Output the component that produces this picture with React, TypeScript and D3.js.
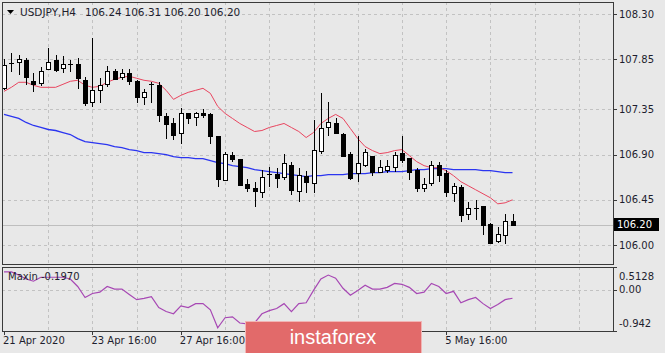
import { useEffect } from 'react'
import * as d3 from 'd3'

const W = 665
const H = 353
const MAIN = { left: 2, right: 613, top: 2, bottom: 264 }
const SUB = { top: 267, bottom: 331 }

const BG = '#E8E8E8'
const FRAME = '#3A3A3A'
const GRID = '#C2C2C2'
const TEXT = '#1E1E2E'
const MA_FAST = '#E8455F'
const MA_SLOW = '#2B35F0'
const OSC = '#A748B4'
const FONT = "'DejaVu Sans', Verdana, sans-serif"

const SYMBOL = 'USDJPY,H4'
const LAST_OHLC = ['106.24', '106.31', '106.20', '106.20']
const OSC_LABEL = 'Maxin -0.1970'

const OPEN = [
  107.56, 107.81, 107.82, 107.84, 107.63, 107.61, 107.75, 107.84, 107.76, 107.80,
  107.80, 107.64, 107.42, 107.54, 107.60, 107.73, 107.67, 107.71, 107.63, 107.47,
  107.60, 107.59, 107.28, 107.21, 107.11, 107.31, 107.27, 107.31, 107.30, 107.09,
  106.65, 106.90, 106.86, 106.61, 106.57, 106.53, 106.71, 106.71, 106.68, 106.80,
  106.54, 106.69, 106.62, 106.93, 107.17, 107.21, 107.11, 106.91, 106.72, 106.80,
  106.89, 106.73, 106.75, 106.78, 106.92, 106.87, 106.75, 106.57, 106.62, 106.80,
  106.72, 106.52, 106.58, 106.31, 106.37, 106.39, 106.21, 106.04, 106.10, 106.24,
]
const HIGH = [
  107.85, 107.91, 107.89, 107.86, 107.71, 107.77, 107.96, 107.89, 107.88, 107.84,
  107.86, 107.67, 108.06, 107.66, 107.78, 107.75, 107.75, 107.75, 107.64, 107.55,
  107.62, 107.62, 107.31, 107.26, 107.36, 107.31, 107.32, 107.35, 107.31, 107.09,
  106.93, 106.93, 106.86, 106.66, 106.63, 106.75, 106.78, 106.77, 106.91, 106.83,
  106.77, 106.74, 107.24, 107.51, 107.42, 107.26, 107.12, 106.93, 107.09, 106.96,
  106.89, 106.85, 106.85, 106.93, 107.09, 106.87, 106.77, 106.67, 106.84, 106.83,
  106.75, 106.62, 106.60, 106.43, 106.45, 106.39, 106.22, 106.18, 106.31, 106.31,
]
const LOW = [
  107.54, 107.72, 107.69, 107.59, 107.52, 107.58, 107.74, 107.72, 107.71, 107.72,
  107.55, 107.38, 107.37, 107.41, 107.57, 107.64, 107.64, 107.59, 107.41, 107.39,
  107.41, 107.22, 107.06, 107.05, 107.01, 107.20, 107.18, 107.26, 107.01, 106.58,
  106.65, 106.83, 106.59, 106.53, 106.38, 106.47, 106.58, 106.57, 106.65, 106.50,
  106.43, 106.52, 106.52, 106.91, 107.09, 107.11, 106.88, 106.65, 106.63, 106.78,
  106.69, 106.72, 106.72, 106.73, 106.82, 106.65, 106.53, 106.53, 106.59, 106.63,
  106.48, 106.43, 106.23, 106.25, 106.25, 106.10, 106.02, 106.02, 106.01, 106.20,
]
const CLOSE = [
  107.79, 107.80, 107.85, 107.67, 107.60, 107.73, 107.82, 107.74, 107.80, 107.79,
  107.66, 107.41, 107.54, 107.59, 107.73, 107.65, 107.71, 107.63, 107.47, 107.52,
  107.59, 107.29, 107.20, 107.09, 107.31, 107.26, 107.31, 107.29, 107.08, 106.66,
  106.91, 106.86, 106.60, 106.57, 106.54, 106.68, 106.70, 106.67, 106.82, 106.55,
  106.70, 106.63, 106.95, 107.16, 107.22, 107.11, 106.89, 106.67, 106.82, 106.93,
  106.73, 106.78, 106.79, 106.90, 106.85, 106.73, 106.57, 106.61, 106.80, 106.70,
  106.53, 106.59, 106.30, 106.37, 106.36, 106.20, 106.02, 106.11, 106.24, 106.20,
]

// moving averages
const MA_RED = [
  107.53, 107.57, 107.62, 107.62, 107.59, 107.57, 107.57, 107.57, 107.60, 107.63,
  107.64, 107.59, 107.57, 107.58, 107.62, 107.65, 107.67, 107.68, 107.66, 107.64,
  107.63, 107.61, 107.54, 107.45, 107.49, 107.52, 107.54, 107.56, 107.51, 107.38,
  107.31, 107.26, 107.21, 107.17, 107.13, 107.14, 107.17, 107.19, 107.21, 107.17,
  107.13, 107.07, 107.12, 107.21, 107.26, 107.30, 107.26, 107.16, 107.06, 106.98,
  106.94, 106.91, 106.92, 106.94, 106.95, 106.89, 106.83, 106.79, 106.77, 106.77,
  106.74, 106.69, 106.63, 106.59, 106.55, 106.51, 106.47, 106.41, 106.42, 106.45,
]
const MA_BLUE = [
  107.30, 107.28, 107.26, 107.22, 107.19, 107.17, 107.15, 107.14, 107.12, 107.10,
  107.06, 107.03, 107.02, 107.01, 107.00, 106.98, 106.97, 106.95, 106.94, 106.92,
  106.92, 106.91, 106.90, 106.88, 106.87, 106.87, 106.86, 106.86, 106.84, 106.82,
  106.81, 106.79, 106.78, 106.77, 106.75, 106.74, 106.73, 106.72, 106.71, 106.70,
  106.69, 106.68, 106.69, 106.69, 106.70, 106.70, 106.70, 106.71, 106.71, 106.71,
  106.72, 106.72, 106.73, 106.73, 106.73, 106.74, 106.75, 106.75, 106.76, 106.76,
  106.76, 106.75, 106.75, 106.75, 106.75, 106.74, 106.74, 106.73, 106.72, 106.72,
]
const OSC_VALUES = [
  0.40, 0.40, 0.33, 0.24, 0.19, 0.28, 0.28, 0.28, 0.28, 0.24,
  0.07, -0.18, -0.09, -0.06, 0.07, 0.01, 0.01, -0.11, -0.23, -0.20,
  -0.16, -0.41, -0.50, -0.55, -0.37, -0.41, -0.32, -0.32, -0.46, -0.87,
  -0.64, -0.62, -0.76, -0.78, -0.76, -0.55, -0.48, -0.43, -0.32, -0.50,
  -0.32, -0.30, -0.02, 0.24, 0.33, 0.26, 0.03, -0.13, -0.02, 0.10,
  0.01, 0.01, 0.05, 0.14, 0.12, 0.05, -0.09, -0.06, 0.14, 0.07,
  -0.09, -0.04, -0.30, -0.23, -0.18, -0.32, -0.43, -0.34, -0.23, -0.197,
]

const PRICE_TICKS = [108.3, 107.85, 107.35, 106.9, 106.45, 106.0]
const OSC_TICKS = [
  { v: 0.5128, label: '0.5128', shift: 9 },
  { v: 0, label: '0.00', shift: 0 },
  { v: -0.942, label: '-0.942', shift: -8 },
]
// labels at bars 36 and 48 sit under the watermark, so only ticks there
const TIME_BARS = [0, 12, 24, 60]
const TIME_LABELS = ['21 Apr 2020', '23 Apr 16:00', '27 Apr 16:00', '5 May 16:00']
const BID = 106.2

const x = d3.scaleLinear().domain([0, OPEN.length - 1]).range([4, 512.5])
const y = d3.scaleLinear().domain([106.0, 108.3]).range([245, 14])
const yOsc = d3.scaleLinear().domain([-0.942, 0.5128]).range([SUB.bottom, SUB.top])
const px = (v: number) => Math.round(v) + 0.5

export default function App() {
  useEffect(() => {
    document.body.style.margin = '0'
    document.body.style.background = BG
  }, [])

  const bars = OPEN.map((o, i) => ({ o, h: HIGH[i], l: LOW[i], c: CLOSE[i], i }))
  const maLine = d3.line<number>().x((_, i) => x(i)).y((d) => y(d))
  const oscLine = d3.line<number>().x((_, i) => x(i)).y((d) => yOsc(d))
  const vGrid = d3.range(6, 84, 6).map((i) => px(x(i))).filter((v) => v < MAIN.right)

  return (
    <svg width={W} height={H} style={{ display: 'block', background: BG }} fontFamily={FONT}>
      <defs>
        <clipPath id="main-clip">
          <rect x={MAIN.left} y={MAIN.top} width={MAIN.right - MAIN.left} height={MAIN.bottom - MAIN.top} />
        </clipPath>
        <clipPath id="sub-clip">
          <rect x={MAIN.left} y={SUB.top} width={MAIN.right - MAIN.left} height={SUB.bottom - SUB.top} />
        </clipPath>
      </defs>

      {/* grid */}
      <g stroke={GRID} strokeWidth={1} strokeDasharray="3,3">
        {PRICE_TICKS.map((p) => (
          <line key={p} x1={MAIN.left} x2={MAIN.right} y1={px(y(p))} y2={px(y(p))} />
        ))}
        {vGrid.map((gx) => (
          <line key={'m' + gx} x1={gx} x2={gx} y1={MAIN.top} y2={MAIN.bottom} />
        ))}
        {vGrid.map((gx) => (
          <line key={'s' + gx} x1={gx} x2={gx} y1={SUB.top} y2={SUB.bottom} />
        ))}
        <line x1={MAIN.left} x2={MAIN.right} y1={px(yOsc(0))} y2={px(yOsc(0))} />
      </g>

      {/* bid line */}
      <line x1={MAIN.left} x2={MAIN.right} y1={px(y(BID))} y2={px(y(BID))} stroke="#BEBEBE" />

      <g clipPath="url(#main-clip)">
        <path d={maLine(MA_BLUE) ?? ''} fill="none" stroke={MA_SLOW} strokeWidth={1.3} />
        <path d={maLine(MA_RED) ?? ''} fill="none" stroke={MA_FAST} strokeWidth={1} />
        {bars.map((b) => {
          const cx = px(x(b.i))
          const top = y(Math.max(b.o, b.c))
          const bot = y(Math.min(b.o, b.c))
          const up = b.c > b.o
          return (
            <g key={b.i}>
              <line x1={cx} x2={cx} y1={Math.round(y(b.h))} y2={Math.round(y(b.l))} stroke="#000" />
              {bot - top < 1.5 ? (
                <line x1={cx - 2.5} x2={cx + 2.5} y1={px(top)} y2={px(top)} stroke="#000" />
              ) : (
                <rect
                  x={cx - 2}
                  y={px(top)}
                  width={4}
                  height={Math.max(1, Math.round(bot - top))}
                  fill={up ? '#fff' : '#000'}
                  stroke="#000"
                />
              )}
            </g>
          )
        })}
      </g>

      <g clipPath="url(#sub-clip)">
        <path d={oscLine(OSC_VALUES) ?? ''} fill="none" stroke={OSC} strokeWidth={1.2} />
      </g>

      {/* frames */}
      <rect x={MAIN.left + 0.5} y={MAIN.top + 0.5} width={MAIN.right - MAIN.left} height={MAIN.bottom - MAIN.top} fill="none" stroke={FRAME} />
      <rect x={MAIN.left + 0.5} y={SUB.top + 0.5} width={MAIN.right - MAIN.left} height={SUB.bottom - SUB.top} fill="none" stroke={FRAME} />

      {/* title */}
      <path d="M7,10 L14,10 L10.5,14 Z" fill="#000" />
      <text x={20} y={16} fontSize={10.5} fill={TEXT}>{SYMBOL}</text>
      {LAST_OHLC.map((v, i) => (
        <text key={i} x={85 + i * 39.5} y={16} fontSize={10.5} fill={TEXT}>{v}</text>
      ))}
      <text x={8} y={280} fontSize={10} fill={TEXT}>{OSC_LABEL}</text>

      {/* price axis */}
      {PRICE_TICKS.map((p) => (
        <g key={p}>
          <line x1={MAIN.right + 1} x2={MAIN.right + 4} y1={px(y(p))} y2={px(y(p))} stroke={FRAME} />
          <text x={619} y={y(p)} dy="0.35em" fontSize={10} fill={TEXT}>{p.toFixed(2)}</text>
        </g>
      ))}
      <rect x={614} y={218} width={45} height={13} fill="#000" />
      <text x={617} y={y(BID)} dy="0.35em" fontSize={10} fill="#fff">{BID.toFixed(2)}</text>

      {/* oscillator axis */}
      {OSC_TICKS.map((t) => (
        <g key={t.label}>
          <line x1={MAIN.right + 1} x2={MAIN.right + 4} y1={px(yOsc(t.v))} y2={px(yOsc(t.v))} stroke={FRAME} />
          <text x={619} y={yOsc(t.v) + t.shift} dy="0.35em" fontSize={10} fill={TEXT}>{t.label}</text>
        </g>
      ))}

      {/* time axis */}
      {TIME_BARS.map((b, i) => (
        <g key={b}>
          <line x1={px(x(b))} x2={px(x(b))} y1={SUB.bottom + 1} y2={SUB.bottom + 4} stroke={FRAME} />
          <text x={x(b) - 1} y={344} fontSize={10} fill={TEXT}>{TIME_LABELS[i]}</text>
        </g>
      ))}

      {/* watermark */}
      <rect x={245.5} y={321.5} width={176} height={33} fill="#E26A6A" stroke="#F1B5B5" />
      <text x={333} y={344} textAnchor="middle" fontSize={20} fill="#fff" fontFamily="'Liberation Sans', Arial, sans-serif">instaforex</text>
    </svg>
  )
}
